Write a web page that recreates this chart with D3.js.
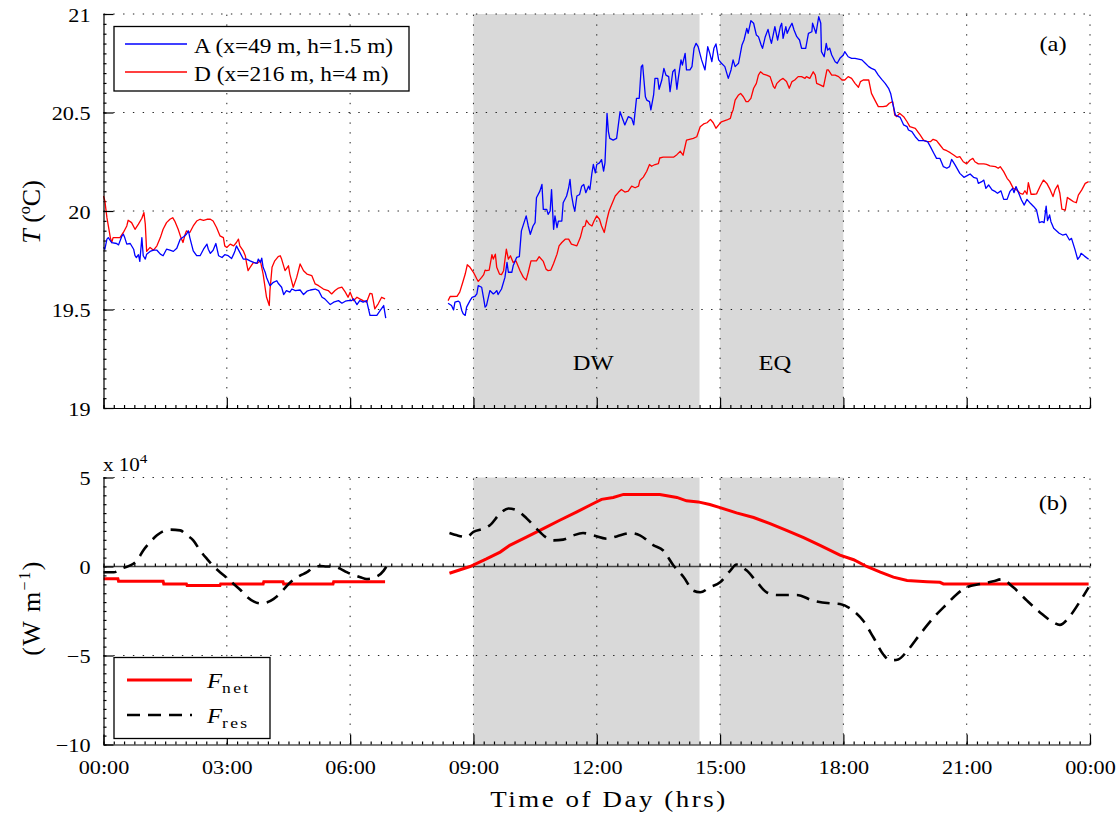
<!DOCTYPE html>
<html>
<head>
<meta charset="utf-8">
<script src="https://cdn.jsdelivr.net/npm/d3@7"></script>
<style>
  body { margin: 0; background: #fff; }
  text { font-family: "Liberation Serif", "Times New Roman", serif; fill: #000; }
</style>
</head>
<body>
<svg id="chart" width="1120" height="815"></svg>
<script>
// ---- data: time in minutes after midnight ----
// temperature (deg C), site A (x=49 m, h=1.5 m)
const tempA_night = [[0,19.815],[2,19.806],[5,19.857],[7,19.865],[12,19.840],[19,19.835],[22,19.828],[27,19.874],[29,19.882],[31,19.865],[34,19.832],[39,19.835],[44,19.806],[46,19.773],[48,19.764],[51,19.778],[53,19.744],[56,19.865],[58,19.773],[61,19.756],[63,19.781],[68,19.795],[73,19.801],[78,19.801],[83,19.781],[87,19.773],[92,19.806],[97,19.801],[102,19.795],[107,19.811],[112,19.857],[117,19.869],[121,19.882],[124,19.899],[126,19.865],[131,19.798],[136,19.773],[141,19.773],[146,19.806],[151,19.832],[153,19.806],[156,19.785],[160,19.801],[164,19.835],[168,19.773],[173,19.764],[177,19.778],[182,19.773],[187,19.759],[190,19.781],[192,19.798],[194,19.823],[199,19.790],[204,19.756],[209,19.756],[214,19.747],[219,19.739],[224,19.734],[226,19.756],[229,19.739],[231,19.761],[233,19.714],[236,19.689],[238,19.663],[243,19.621],[248,19.638],[253,19.646],[255,19.633],[260,19.613],[263,19.576],[267,19.596],[272,19.588],[275,19.604],[280,19.596],[287,19.599],[292,19.576],[297,19.593],[302,19.599],[309,19.604],[314,19.596],[319,19.562],[323,19.554],[331,19.525],[336,19.537],[343,19.545],[348,19.532],[353,19.542],[357,19.545],[362,19.545],[365,19.554],[370,19.525],[374,19.545],[379,19.537],[384,19.545],[389,19.470],[394,19.470],[399,19.470],[404,19.495],[409,19.520],[412,19.456]];
const tempA_day = [[503,19.532],[508,19.520],[511,19.498],[513,19.537],[518,19.542],[520,19.537],[523,19.495],[525,19.478],[528,19.470],[530,19.512],[535,19.545],[538,19.562],[542,19.566],[545,19.579],[547,19.621],[552,19.613],[555,19.554],[557,19.512],[559,19.520],[564,19.596],[569,19.579],[572,19.588],[574,19.596],[576,19.576],[581,19.604],[586,19.663],[589,19.739],[591,19.689],[596,19.689],[598,19.722],[603,19.764],[607,19.768],[610,19.899],[617,19.975],[620,19.924],[623,19.882],[627,19.924],[630,19.941],[632,20.067],[637,20.101],[640,20.135],[642,20.008],[647,20.008],[649,19.983],[652,20.000],[654,20.109],[657,19.907],[659,19.975],[662,19.916],[664,19.949],[669,19.949],[671,20.042],[676,20.076],[679,20.118],[681,20.160],[683,20.084],[686,20.025],[688,20.000],[691,20.076],[695,20.084],[698,20.126],[701,20.135],[704,20.093],[708,20.126],[710,20.109],[713,20.194],[715,20.236],[718,20.194],[720,20.236],[724,20.244],[727,20.261],[730,20.202],[732,20.244],[735,20.496],[737,20.403],[739,20.369],[744,20.360],[749,20.369],[754,20.504],[761,20.437],[766,20.479],[771,20.470],[774,20.437],[778,20.572],[782,20.572],[785,20.733],[787,20.741],[791,20.580],[793,20.563],[797,20.555],[799,20.513],[803,20.589],[805,20.673],[809,20.673],[811,20.618],[815,20.665],[818,20.724],[821,20.690],[825,20.682],[827,20.606],[831,20.707],[834,20.719],[837,20.618],[839,20.673],[843,20.767],[845,20.741],[849,20.800],[851,20.716],[856,20.716],[859,20.733],[862,20.826],[865,20.851],[868,20.834],[873,20.767],[878,20.716],[882,20.834],[885,20.800],[888,20.758],[891,20.826],[894,20.848],[898,20.767],[902,20.750],[907,20.733],[912,20.673],[916,20.716],[919,20.767],[922,20.733],[927,20.750],[932,20.843],[935,20.868],[939,20.927],[941,20.902],[945,20.966],[949,20.953],[953,20.893],[956,20.885],[960,20.843],[962,20.826],[966,20.885],[970,20.922],[973,20.876],[975,20.851],[978,20.902],[980,20.936],[984,20.868],[988,20.936],[990,20.953],[992,20.876],[996,20.936],[998,20.902],[1001,20.927],[1005,20.953],[1008,20.919],[1012,20.885],[1016,20.868],[1019,20.826],[1025,20.826],[1029,20.902],[1034,20.910],[1035,20.953],[1040,20.902],[1044,20.986],[1047,20.953],[1048,20.809],[1052,20.783],[1055,20.851],[1057,20.817],[1060,20.826],[1063,20.792],[1068,20.758],[1071,20.750],[1075,20.775],[1080,20.792],[1082,20.809],[1087,20.783],[1092,20.775],[1097,20.775],[1107,20.767],[1112,20.750],[1117,20.733],[1121,20.724],[1126,20.716],[1131,20.690],[1136,20.668],[1141,20.648],[1146,20.623],[1149,20.597],[1152,20.547],[1156,20.487],[1163,20.475],[1168,20.437],[1173,20.428],[1175,20.411],[1180,20.403],[1185,20.377],[1190,20.357],[1197,20.357],[1203,20.352],[1207,20.327],[1212,20.293],[1216,20.267],[1221,20.267],[1226,20.225],[1231,20.217],[1235,20.225],[1238,20.262],[1243,20.234],[1250,20.191],[1256,20.171],[1260,20.178],[1265,20.188],[1270,20.171],[1275,20.166],[1277,20.140],[1282,20.149],[1285,20.157],[1288,20.115],[1292,20.132],[1297,20.107],[1302,20.098],[1305,20.090],[1310,20.102],[1314,20.059],[1319,20.059],[1323,20.098],[1327,20.115],[1329,20.093],[1332,20.124],[1336,20.090],[1340,20.056],[1344,20.030],[1348,20.059],[1353,20.039],[1358,20.022],[1362,20.005],[1366,19.941],[1370,19.946],[1373,19.941],[1376,20.025],[1378,19.951],[1381,19.980],[1383,19.946],[1387,19.912],[1391,19.900],[1395,19.887],[1400,19.878],[1405,19.883],[1410,19.853],[1413,19.861],[1418,19.805],[1422,19.755],[1425,19.768],[1427,19.785],[1432,19.771],[1438,19.755]];

// temperature (deg C), site D (x=216 m, h=4 m)
const tempD_night = [[0,20.076],[2,20.051],[5,19.966],[10,19.865],[12,19.840],[14,19.865],[19,19.865],[24,19.865],[29,19.891],[34,19.924],[36,19.953],[41,19.941],[46,19.907],[51,19.933],[56,19.963],[59,19.992],[61,19.933],[63,19.795],[68,19.815],[73,19.801],[78,19.823],[83,19.865],[87,19.907],[92,19.941],[97,19.958],[101,19.966],[104,19.949],[109,19.907],[113,19.865],[116,19.840],[119,19.879],[121,19.899],[126,19.891],[131,19.924],[136,19.949],[141,19.958],[146,19.953],[151,19.958],[156,19.958],[160,19.949],[165,19.916],[170,19.874],[175,19.865],[177,19.823],[180,19.815],[185,19.832],[190,19.823],[194,19.840],[197,19.857],[199,19.823],[204,19.798],[207,19.773],[209,19.731],[211,19.697],[214,19.714],[219,19.739],[224,19.734],[229,19.747],[233,19.680],[238,19.562],[242,19.520],[243,19.596],[246,19.714],[250,19.747],[255,19.768],[258,19.773],[260,19.756],[265,19.697],[270,19.722],[272,19.680],[277,19.613],[282,19.663],[287,19.731],[292,19.697],[297,19.680],[304,19.672],[309,19.630],[314,19.621],[321,19.604],[328,19.596],[333,19.579],[338,19.596],[343,19.609],[348,19.613],[353,19.588],[357,19.562],[360,19.588],[365,19.545],[370,19.562],[374,19.554],[379,19.545],[384,19.537],[389,19.582],[392,19.579],[396,19.503],[401,19.529],[406,19.562],[411,19.554]];
const tempD_day = [[503,19.545],[506,19.566],[516,19.567],[520,19.588],[524,19.633],[528,19.680],[531,19.727],[535,19.714],[540,19.689],[545,19.655],[547,19.643],[552,19.663],[555,19.677],[557,19.700],[559,19.697],[563,19.700],[567,19.778],[569,19.756],[572,19.781],[574,19.714],[578,19.680],[581,19.677],[584,19.697],[588,19.806],[591,19.756],[594,19.773],[598,19.739],[602,19.747],[608,19.697],[613,19.663],[617,19.650],[620,19.689],[624,19.747],[632,19.747],[636,19.768],[642,19.744],[646,19.705],[649,19.697],[653,19.700],[657,19.734],[662,19.781],[665,19.823],[669,19.840],[674,19.857],[679,19.857],[683,19.832],[691,19.823],[696,19.865],[700,19.919],[703,19.924],[705,19.953],[709,19.933],[713,19.924],[716,19.949],[720,19.975],[724,19.958],[727,19.924],[731,19.891],[735,19.958],[738,20.000],[742,20.034],[747,20.076],[752,20.096],[756,20.109],[761,20.096],[766,20.101],[771,20.126],[776,20.118],[781,20.126],[783,20.155],[788,20.172],[793,20.202],[797,20.236],[800,20.227],[805,20.236],[810,20.241],[812,20.269],[817,20.273],[825,20.273],[832,20.273],[837,20.286],[842,20.303],[846,20.283],[851,20.360],[861,20.369],[866,20.377],[871,20.428],[876,20.442],[881,20.448],[886,20.465],[890,20.448],[894,20.420],[898,20.437],[902,20.453],[910,20.462],[915,20.470],[917,20.496],[919,20.513],[922,20.563],[927,20.589],[930,20.597],[934,20.580],[938,20.555],[941,20.555],[945,20.572],[949,20.623],[953,20.648],[956,20.690],[959,20.707],[963,20.695],[968,20.690],[973,20.682],[978,20.631],[980,20.623],[983,20.648],[988,20.665],[992,20.673],[997,20.657],[1001,20.623],[1005,20.657],[1009,20.665],[1014,20.682],[1019,20.682],[1024,20.673],[1026,20.682],[1031,20.673],[1036,20.707],[1039,20.690],[1041,20.648],[1046,20.640],[1051,20.631],[1056,20.716],[1058,20.716],[1063,20.690],[1068,20.690],[1073,20.682],[1078,20.665],[1082,20.665],[1087,20.682],[1092,20.673],[1097,20.648],[1102,20.628],[1105,20.657],[1109,20.665],[1117,20.665],[1121,20.597],[1126,20.563],[1131,20.530],[1138,20.530],[1143,20.533],[1147,20.547],[1152,20.555],[1155,20.487],[1158,20.479],[1162,20.496],[1168,20.479],[1173,20.453],[1177,20.428],[1185,20.420],[1192,20.386],[1197,20.360],[1202,20.352],[1207,20.352],[1211,20.364],[1216,20.357],[1221,20.335],[1226,20.313],[1231,20.306],[1236,20.296],[1241,20.284],[1246,20.272],[1250,20.276],[1255,20.250],[1260,20.239],[1265,20.259],[1269,20.267],[1272,20.250],[1277,20.239],[1285,20.239],[1289,20.237],[1294,20.229],[1302,20.225],[1306,20.217],[1309,20.225],[1314,20.200],[1319,20.166],[1323,20.149],[1328,20.115],[1333,20.107],[1338,20.090],[1342,20.085],[1345,20.103],[1348,20.085],[1350,20.144],[1354,20.085],[1358,20.085],[1362,20.087],[1367,20.124],[1372,20.157],[1377,20.140],[1382,20.107],[1386,20.073],[1389,20.107],[1393,20.132],[1396,20.090],[1399,20.009],[1404,20.005],[1407,20.069],[1411,20.059],[1416,20.047],[1420,20.042],[1423,20.081],[1428,20.107],[1433,20.140],[1438,20.149]];

// net heat flux F_net (W m^-1)
const fnet_night = [[0,-6900],[21,-6900],[22,-8300],[87,-8300],[88,-9800],[121,-9800],[122,-10700],[170,-10700],[171,-9800],[233,-9800],[234,-8600],[262,-8600],[263,-9800],[335,-9800],[336,-8600],[411,-8600]];
const fnet_day = [[505,-3800],[535,0],[559,4300],[579,8100],[593,11900],[618,16600],[642,21300],[666,26000],[691,30700],[715,35400],[727,37700],[744,38800],[759,40500],[812,40500],[837,38800],[851,36900],[868,36300],[885,34800],[900,33100],[924,30100],[949,27500],[973,24100],[997,20300],[1022,16200],[1046,11900],[1075,6400],[1095,3800],[1114,0],[1134,-3200],[1153,-6000],[1173,-7900],[1202,-8500],[1221,-8900],[1226,-9800],[1438,-9800]];

// residual heat flux F_res (W m^-1)
const fres_night = [[0,-3200],[15,-3200],[29,-700],[39,600],[49,3400],[58,9000],[68,13700],[78,17500],[88,20000],[97,20700],[112,20300],[122,17500],[131,14700],[141,9000],[151,4300],[161,0],[170,-3200],[180,-6400],[190,-9800],[200,-13200],[209,-16900],[219,-19600],[229,-20700],[238,-20200],[248,-18300],[258,-15100],[268,-10700],[277,-7500],[287,-5100],[297,-3200],[307,-400],[316,200],[326,0],[336,0],[346,-1300],[355,-3200],[365,-4700],[375,-6000],[384,-7000],[399,-5600],[409,-2300],[414,600]];
const fres_day = [[505,18800],[516,17500],[530,16600],[540,19400],[555,21300],[564,23200],[579,29800],[591,32600],[603,31600],[618,26900],[632,21300],[645,16600],[657,14700],[671,15100],[686,17500],[700,18800],[715,17500],[735,15600],[749,16900],[769,18800],[783,17500],[803,11900],[817,9000],[832,600],[847,-6000],[861,-13600],[871,-14500],[885,-11700],[900,-8900],[915,-2300],[924,1100],[939,-2300],[954,-8900],[968,-14500],[983,-16000],[1012,-16000],[1036,-19200],[1061,-20700],[1075,-21100],[1095,-25000],[1109,-30500],[1124,-39900],[1138,-49300],[1148,-52700],[1160,-52200],[1173,-47500],[1192,-38000],[1212,-28600],[1231,-21100],[1246,-15400],[1260,-11700],[1280,-9800],[1299,-8300],[1311,-7200],[1328,-11700],[1348,-19200],[1367,-25800],[1387,-31500],[1396,-32800],[1411,-27700],[1426,-19200],[1438,-11700]];

// shaded periods (minutes)
const periods = [
  { name: "DW", from: 540, to: 870, labelAt: 715 },
  { name: "EQ", from: 900, to: 1080, labelAt: 980 }
];

// axis ticks
const xTicks = [0, 180, 360, 540, 720, 900, 1080, 1260, 1440];
const xTickLabels = ["00:00", "03:00", "06:00", "09:00", "12:00", "15:00", "18:00", "21:00", "00:00"];
const tTicks = [19, 19.5, 20, 20.5, 21];
const tTickLabels = ["19", "19.5", "20", "20.5", "21"];
const fTicks = [-100000, -50000, 0, 50000];
const fTickLabels = ["\u221210", "\u22125", "0", "5"];

// ---- layout ----
const SX = 1.17;               // horizontal glyph stretch of the figure's type
const X0 = 103.5, X1 = 1090;
const svg = d3.select("#chart");

const x = d3.scaleLinear().domain([0, 1440]).range([X0, X1]);
const yT = d3.scaleLinear().domain([19, 21]).range([408, 14]);
const yF = d3.scaleLinear().domain([-100000, 50000]).range([744.5, 477.5]);

function stretchedText(parent, px, py, anchor, size) {
  return parent.append("text")
    .attr("transform", `translate(${px},${py}) scale(${SX},1)`)
    .attr("text-anchor", anchor)
    .style("font-size", size + "px");
}

function panel(y, yTicks, yMinor) {
  const g = svg.append("g");
  const [yb, yt] = y.range();

  // shaded periods
  g.selectAll("rect.shade").data(periods).join("rect")
    .attr("class", "shade")
    .attr("x", d => x(d.from)).attr("width", d => x(d.to) - x(d.from))
    .attr("y", yt).attr("height", yb - yt)
    .attr("fill", "#d9d9d9");

  // dotted grid
  const grid = g.append("g").attr("stroke", "#222").attr("stroke-width", 1)
    .attr("stroke-dasharray", "1.4,8.4");
  grid.selectAll("line.v").data(xTicks.slice(1)).join("line")
    .attr("x1", d => x(d)).attr("x2", d => x(d)).attr("y1", yb).attr("y2", yt);
  grid.selectAll("line.h").data(yTicks.slice(1)).join("line")
    .attr("x1", X0).attr("x2", X1).attr("y1", d => y(d)).attr("y2", d => y(d));

  // minor ticks
  const minorX = d3.range(0, 1441, 15);
  g.append("g").attr("transform", `translate(0,${yb})`)
    .call(d3.axisBottom(x).tickValues(minorX).tickSize(-3).tickSizeOuter(0).tickFormat(""))
    .call(s => s.select(".domain").remove());
  const minorY = d3.range(yTicks[0], yTicks[yTicks.length - 1] + yMinor / 2, yMinor);
  g.append("g").attr("transform", `translate(${X0},0)`)
    .call(d3.axisLeft(y).tickValues(minorY).tickSize(-3).tickSizeOuter(0).tickFormat(""))
    .call(s => s.select(".domain").remove());

  return g;
}

function axes(g, y, yTicks, yLabels, showXLabels) {
  const [yb] = y.range();
  const ax = g.append("g").attr("transform", `translate(0,${yb})`)
    .call(d3.axisBottom(x).tickValues(xTicks).tickSize(-10).tickSizeOuter(0)
      .tickFormat((d, i) => showXLabels ? xTickLabels[i] : ""));
  ax.selectAll("text").attr("y", 0).attr("dy", 0)
    .attr("transform", `translate(0,29) scale(${SX},1)`)
    .style("font-size", "19px");
  const ay = g.append("g").attr("transform", `translate(${X0},0)`)
    .call(d3.axisLeft(y).tickValues(yTicks).tickSize(-10).tickSizeOuter(0)
      .tickFormat((d, i) => yLabels[i]));
  ay.selectAll("text").attr("x", 0).attr("dy", 0)
    .attr("transform", `translate(-13,7) scale(${SX},1)`)
    .style("font-size", "19px");
  g.selectAll(".domain, .tick line").attr("stroke", "#000").attr("stroke-width", 1.2);
  g.selectAll(".tick text").attr("fill", "#000").style("font-family", "'Liberation Serif', serif");
}

const lineOf = y => d3.line().x(d => x(d[0])).y(d => y(d[1]));

// ===== panel (a): temperature =====
const ga = panel(yT, tTicks, 0.05);
const lT = lineOf(yT);
[[tempD_night, "#ff0000"], [tempD_day, "#ff0000"], [tempA_night, "#0000ff"], [tempA_day, "#0000ff"]]
  .forEach(([data, color]) => {
    ga.append("path").datum(data).attr("d", lT)
      .attr("fill", "none").attr("stroke", color).attr("stroke-width", 1.3)
      .attr("stroke-linejoin", "round");
  });
axes(ga, yT, tTicks, tTickLabels, false);

periods.forEach(p => stretchedText(ga, x(p.labelAt), 370, "middle", 21).text(p.name));
stretchedText(ga, 1053, 51, "middle", 21).text("(a)");

// legend (a)
const la = ga.append("g");
la.append("rect").attr("x", 114).attr("y", 26.5).attr("width", 295).attr("height", 64.5)
  .attr("fill", "#fff").attr("stroke", "#000").attr("stroke-width", 1.3);
[["A (x=49 m, h=1.5 m)", "#0000ff", 44], ["D (x=216 m, h=4 m)", "#ff0000", 72]].forEach(([label, color, ly]) => {
  la.append("line").attr("x1", 125).attr("x2", 187).attr("y1", ly).attr("y2", ly)
    .attr("stroke", color).attr("stroke-width", 1.3);
  stretchedText(la, 194, ly + 9, "start", 20).text(label);
});

// y label (a)
const ylA = svg.append("text")
  .attr("transform", "translate(40,212) rotate(-90)")
  .attr("text-anchor", "middle").style("font-size", "26px");
ylA.append("tspan").style("font-style", "italic").text("T");
ylA.append("tspan").text(" (");
ylA.append("tspan").attr("dy", -10).style("font-size", "16px").text("o");
ylA.append("tspan").attr("dy", 10).text("C)");

// ===== panel (b): heat fluxes =====
const gb = panel(yF, fTicks, 5000);

// zero line with small ticks
gb.append("line").attr("x1", X0).attr("x2", X1).attr("y1", yF(0)).attr("y2", yF(0))
  .attr("stroke", "#444").attr("stroke-width", 1.3);
gb.append("g").attr("transform", `translate(0,${yF(0)})`)
  .call(d3.axisBottom(x).tickValues(d3.range(0, 1441, 15)).tickSize(-3).tickSizeOuter(0).tickFormat(""))
  .call(s => s.select(".domain").remove())
  .selectAll("line").attr("stroke", "#444");

const lF = lineOf(yF);
[fnet_night, fnet_day].forEach(data => {
  gb.append("path").datum(data).attr("d", lF)
    .attr("fill", "none").attr("stroke", "#ff0000").attr("stroke-width", 3);
});
[fres_night, fres_day].forEach(data => {
  gb.append("path").datum(data).attr("d", d3.line().curve(d3.curveMonotoneX).x(d => x(d[0])).y(d => yF(d[1])))
    .attr("fill", "none").attr("stroke", "#000").attr("stroke-width", 2.6)
    .attr("stroke-dasharray", "13,8");
});
axes(gb, yF, fTicks, fTickLabels, true);

stretchedText(gb, 1053, 510, "middle", 21).text("(b)");

// exponent
const ex = stretchedText(gb, 103, 471, "start", 18);
ex.append("tspan").text("x 10");
ex.append("tspan").attr("dy", -8).style("font-size", "13px").text("4");

// legend (b)
const lb = gb.append("g");
lb.append("rect").attr("x", 114).attr("y", 657.5).attr("width", 156).attr("height", 81)
  .attr("fill", "#fff").attr("stroke", "#000").attr("stroke-width", 1.3);
[["net", "#ff0000", 680, null, 3], ["res", "#000", 715, "13,8", 2.6]].forEach(([sub, color, ly, dash, w]) => {
  lb.append("line").attr("x1", 127).attr("x2", 192).attr("y1", ly).attr("y2", ly)
    .attr("stroke", color).attr("stroke-width", w).attr("stroke-dasharray", dash);
  const t = stretchedText(lb, 207, ly + 8, "start", 21);
  t.append("tspan").style("font-style", "italic").text("F");
  t.append("tspan").attr("dy", 5).style("font-size", "15px").style("letter-spacing", "2px").text(sub);
});

// y label (b)
const ylB = svg.append("text")
  .attr("transform", "translate(40,608) rotate(-90)")
  .attr("text-anchor", "middle").style("font-size", "26px").style("letter-spacing", "1.5px");
ylB.append("tspan").text("(W m");
ylB.append("tspan").attr("dy", -10).style("font-size", "16px").text("\u22121");
ylB.append("tspan").attr("dy", 10).text(")");

// x label
stretchedText(svg, 609, 807, "middle", 23).style("letter-spacing", "2.2px").text("Time of Day (hrs)");
</script>
</body>
</html>
